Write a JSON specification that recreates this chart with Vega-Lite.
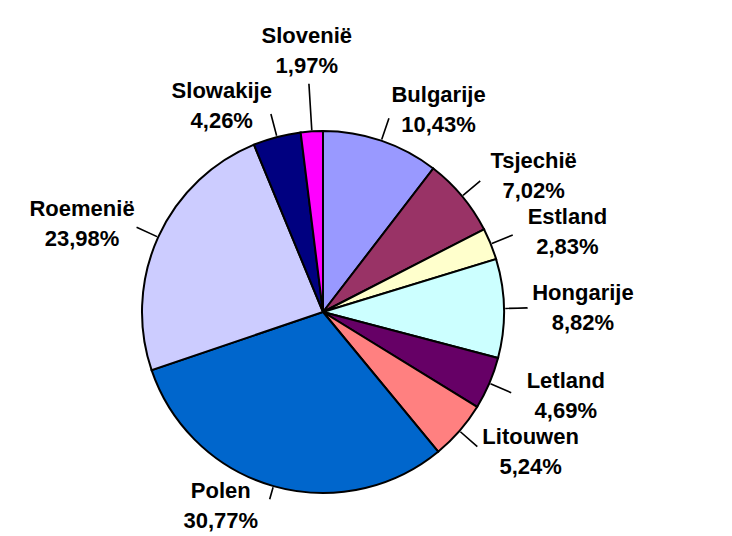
{
  "$schema": "https://vega.github.io/schema/vega-lite/v6.json",
  "width": 646,
  "height": 446,
  "autosize": {"type": "none"},
  "padding": {"left": 0, "top": 89, "right": 86, "bottom": 1},
  "background": "white",
  "config": {
    "view": {"stroke": null},
    "text": {"font": "Liberation Sans", "fontSize": 22, "fontWeight": "bold", "lineBreak": "\n", "lineHeight": 30, "color": "black", "align": "center", "baseline": "middle", "dy": -15}
  },
  "data": {
    "values": [
      {"land": "Bulgarije", "pct": 10.43},
      {"land": "Tsjechië", "pct": 7.02},
      {"land": "Estland", "pct": 2.83},
      {"land": "Hongarije", "pct": 8.82},
      {"land": "Letland", "pct": 4.69},
      {"land": "Litouwen", "pct": 5.24},
      {"land": "Polen", "pct": 30.77},
      {"land": "Roemenië", "pct": 23.98},
      {"land": "Slowakije", "pct": 4.26},
      {"land": "Slovenië", "pct": 1.97}
    ]
  },
  "transform": [
    {"window": [{"op": "row_number", "as": "idx"}]},
    {"window": [{"op": "sum", "field": "pct", "as": "cum"}], "sort": [{"field": "idx"}], "frame": [null, 0]},
    {"joinaggregate": [{"op": "sum", "field": "pct", "as": "total"}]},
    {"calculate": "(datum.cum - datum.pct) / datum.total", "as": "t0"},
    {"calculate": "datum.cum / datum.total", "as": "t1"},
    {"calculate": "(datum.cum - datum.pct / 2) / datum.total", "as": "tm"},
    {"calculate": "datum.tm + 0.0001", "as": "tm2"},
    {"calculate": "sin(datum.tm * 2 * PI)", "as": "s"},
    {"calculate": "cos(datum.tm * 2 * PI)", "as": "c"},
    {"calculate": "datum.s > 0.1 ? 'right' : (datum.s < -0.1 ? (datum.c < -0.8 ? 'bottom' : 'left') : 'top')", "as": "side"},
    {"calculate": "datum.land + '\\n' + replace(format(datum.pct, '.2f'), '.', ',') + '%'", "as": "label"}
  ],
  "layer": [
    {
      "mark": {"type": "arc", "outerRadius": 181, "stroke": "black", "strokeWidth": 2},
      "encoding": {
        "theta": {"field": "t0", "type": "quantitative", "stack": null, "scale": {"domain": [0, 1]}},
        "theta2": {"field": "t1"},
        "color": {
          "field": "land",
          "type": "nominal",
          "legend": null,
          "scale": {
            "domain": ["Bulgarije", "Tsjechië", "Estland", "Hongarije", "Letland", "Litouwen", "Polen", "Roemenië", "Slowakije", "Slovenië"],
            "range": ["#9999FF", "#993366", "#FFFFCC", "#CCFFFF", "#660066", "#FF8080", "#0066CC", "#CCCCFF", "#000080", "#FF00FF"]
          }
        }
      }
    },
    {
      "transform": [{"filter": "datum.side == 'left' || datum.side == 'right'"}],
      "mark": {"type": "arc", "innerRadius": 183, "outerRadius": 204, "fill": "transparent", "stroke": "black", "strokeWidth": 1.5},
      "encoding": {
        "theta": {"field": "tm", "type": "quantitative", "stack": null},
        "theta2": {"field": "tm2"}
      }
    },
    {
      "transform": [{"filter": "datum.side == 'top'"}],
      "mark": {"type": "arc", "innerRadius": 183, "outerRadius": 228, "fill": "transparent", "stroke": "black", "strokeWidth": 1.5},
      "encoding": {
        "theta": {"field": "tm", "type": "quantitative", "stack": null},
        "theta2": {"field": "tm2"}
      }
    },
    {
      "transform": [{"filter": "datum.side == 'bottom'"}],
      "mark": {"type": "arc", "innerRadius": 183, "outerRadius": 194, "fill": "transparent", "stroke": "black", "strokeWidth": 1.5},
      "encoding": {
        "theta": {"field": "tm", "type": "quantitative", "stack": null},
        "theta2": {"field": "tm2"}
      }
    },
    {
      "transform": [{"filter": "datum.side == 'right'"}],
      "mark": {"type": "text", "radius": 213, "dx": 47},
      "encoding": {
        "theta": {"field": "tm", "type": "quantitative", "stack": null},
        "text": {"field": "label", "type": "nominal"}
      }
    },
    {
      "transform": [{"filter": "datum.side == 'left'"}],
      "mark": {"type": "text", "radius": 213, "dx": -47},
      "encoding": {
        "theta": {"field": "tm", "type": "quantitative", "stack": null},
        "text": {"field": "label", "type": "nominal"}
      }
    },
    {
      "transform": [{"filter": "datum.side == 'bottom'"}],
      "mark": {"type": "text", "radius": 202, "dx": -47},
      "encoding": {
        "theta": {"field": "tm", "type": "quantitative", "stack": null},
        "text": {"field": "label", "type": "nominal"}
      }
    },
    {
      "transform": [{"filter": "datum.side == 'top'"}],
      "mark": {"type": "text", "radius": 262},
      "encoding": {
        "theta": {"field": "tm", "type": "quantitative", "stack": null},
        "text": {"field": "label", "type": "nominal"}
      }
    }
  ]
}
